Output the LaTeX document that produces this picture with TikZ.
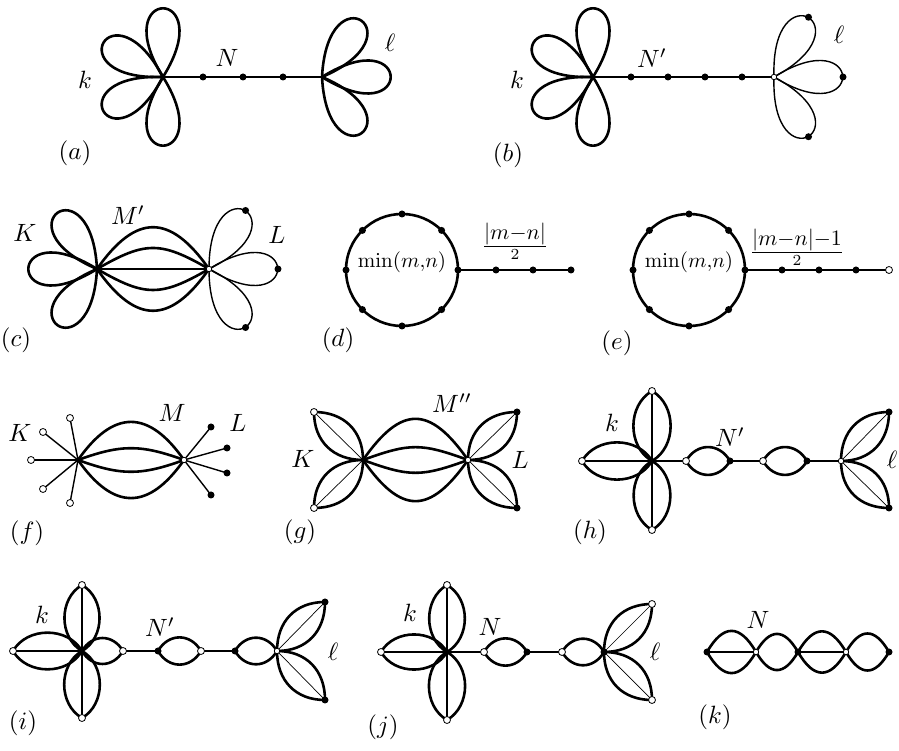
\documentclass[tikz,border=0pt]{standalone}
\usepackage{graphicx}
\newcommand\petal[3]{\draw[#3] (#1) .. controls +({#2-32}:108) and +({#2+32}:108) .. (#1);}
\newcommand\lbl[1]{\scalebox{2.5}{$#1$}}
\begin{document}
\begin{tikzpicture}[x=1pt,y=1pt,
  thk/.style={line width=2.6pt},
  med/.style={line width=1.9pt},
  thn/.style={line width=1.4pt},
  vthn/.style={line width=0.7pt},
  bdot/.style={circle,fill=black,inner sep=0pt,minimum size=7pt},
  wdot/.style={circle,draw=black,fill=white,inner sep=0pt,minimum size=7pt,line width=0.8pt},
  swdot/.style={circle,draw=black,fill=white,inner sep=0pt,minimum size=5.5pt,line width=0.8pt},
  cdot/.style={circle,fill=black,inner sep=0pt,minimum size=5pt},
  lab/.style={inner sep=0pt},
  lensb/.style={bend left=60,looseness=#1},
]
\useasboundingbox (0,0) rectangle (899,751);

%%%%% (a)
\coordinate (aL) at (163,674);
\coordinate (aR) at (322,674);
\coordinate (a1) at (203,674);
\coordinate (a2) at (243,674);
\coordinate (a3) at (283,674);
\draw[thk] (aL) -- (a1) -- (a2) -- (a3) -- (aR);
\foreach \t in {90,150,210,270} {\petal{aL}{\t}{thk}}
\foreach \t in {55,0,-55} {\petal{aR}{\t}{thk}}
\foreach \i in {1,2,3} {\node[bdot] (na\i) at (a\i) {};}
\node[lab] (laN) at (227,693) {\lbl{N}};
\node[lab] (lak) at (85,671) {\lbl{k}};
\node[lab] (lal) at (390,708) {\lbl{\ell}};
\node[lab] (lat) at (75,598) {\lbl{(a)}};

%%%%% (b)
\coordinate (bL) at (593,674);
\coordinate (bR) at (774,674);
\coordinate (b1) at (631,674);
\coordinate (b2) at (668,674);
\coordinate (b3) at (705,674);
\coordinate (b4) at (742,674);
\draw[thk] (bL) -- (b1) -- (b2) -- (b3) -- (b4) -- (bR);
\foreach \t in {90,150,210,270} {\petal{bL}{\t}{thk}}
\foreach \t in {60,0,-60} {\petal{bR}{\t}{thn}}
\foreach \t [count=\i] in {60,0,-60} {\path (bR) ++(\t:69) node[bdot] (bt\i) {};}
\foreach \i in {1,2,3,4} {\node[bdot] (nb\i) at (b\i) {};}
\node[swdot] (nbR) at (bR) {};
\node[lab] (lbN) at (652,693) {\lbl{N'}};
\node[lab] (lbk) at (517,671) {\lbl{k}};
\node[lab] (lbl) at (839,716) {\lbl{\ell}};
\node[lab] (lbt) at (508,596) {\lbl{(b)}};

%%%%% (c)
\coordinate (cL) at (97,482);
\coordinate (cR) at (209,482);
\foreach \t in {125,180,235} {\petal{cL}{\t}{thk}}
\foreach \t in {58,0,-58} {\petal{cR}{\t}{thn}}
\draw[med] (cL) -- (cR);
\draw[thk] (cL) .. controls +(55:68) and +(125:68) .. (cR);
\draw[thk] (cL) .. controls +(-55:68) and +(-125:68) .. (cR);
\draw[thk] (cL) .. controls +(30:56) and +(150:56) .. (cR);
\draw[thk] (cL) .. controls +(-30:56) and +(-150:56) .. (cR);
\foreach \t [count=\i] in {58,0,-58} {\path (cR) ++(\t:69) node[bdot] (ct\i) {};}
\node[swdot] (ncR) at (cR) {};
\node[lab] (lcM) at (128,536) {\lbl{M'}};
\node[lab] (lcK) at (25,518) {\lbl{K}};
\node[lab] (lcL) at (277,516) {\lbl{L}};
\node[lab] (lct) at (16,411) {\lbl{(c)}};

%%%%% (d)
\coordinate (dC) at (402,481);
\coordinate (dR) at (458,481);
\coordinate (d1) at (496,481);
\coordinate (d2) at (533,481);
\coordinate (d3) at (571,481);
\draw[thk] (dC) circle (56);
\draw[thk] (dR) -- (d1) -- (d2) -- (d3);
\foreach \a in {0,45,...,315} {\path (dC) ++(\a:56) node[bdot] (dc\a) {};}
\foreach \i in {1,2,3} {\node[bdot] (nd\i) at (d\i) {};}
\node[lab] (ldm) at (402,489) {\scalebox{2.1}{$\min(m,\!n)$}};
\node[lab] (ldf) at (515,510) {\scalebox{2.2}{$\frac{\textstyle|m{-}n|}{2}$}};
\node[lab] (ldt) at (338,411) {\lbl{(d)}};

%%%%% (e)
\coordinate (eC) at (689,481);
\coordinate (eR) at (745,481);
\coordinate (e1) at (782,481);
\coordinate (e2) at (819,481);
\coordinate (e3) at (856,481);
\coordinate (e4) at (889,481);
\draw[thk] (eC) circle (56);
\draw[thk] (eR) -- (e1) -- (e2) -- (e3);
\draw[thn] (e3) -- (e4);
\foreach \a in {0,45,...,315} {\path (eC) ++(\a:56) node[bdot] (ec\a) {};}
\foreach \i in {1,2,3} {\node[bdot] (ne\i) at (e\i) {};}
\node[wdot] (ne4) at (e4) {};
\node[lab] (lem) at (689,489) {\scalebox{2.1}{$\min(m,\!n)$}};
\node[lab] (lef) at (797,504) {\scalebox{2.2}{$\frac{\textstyle|m{-}n|{-}1}{2}$}};
\node[lab] (let) at (617,408) {\lbl{(e)}};

%%%%% (f)
\coordinate (fL) at (78,291);
\coordinate (fR) at (184,291);
\coordinate (fa1) at (70,333);
\coordinate (fa2) at (43,319);
\coordinate (fa3) at (31,291);
\coordinate (fa4) at (43,262);
\coordinate (fa5) at (70,248);
\coordinate (fb1) at (211,324);
\coordinate (fb2) at (227,303);
\coordinate (fb3) at (227,278);
\coordinate (fb4) at (211,256);
\draw[thk] (fL) .. controls +(55:62) and +(125:62) .. (fR);
\draw[thk] (fL) .. controls +(-55:62) and +(-125:62) .. (fR);
\draw[thk] (fL) .. controls +(20:46) and +(160:46) .. (fR);
\draw[thk] (fL) .. controls +(-20:46) and +(-160:46) .. (fR);
\foreach \i in {1,...,5} {\draw[thn] (fL) -- (fa\i);}
\foreach \i in {1,...,4} {\draw[thn] (fR) -- (fb\i);}
\foreach \i in {1,...,5} {\node[wdot] (nfa\i) at (fa\i) {};}
\foreach \i in {1,...,4} {\node[bdot] (nfb\i) at (fb\i) {};}
\node[cdot] (nfL) at (fL) {};
\node[swdot] (nfR) at (fR) {};
\node[lab] (lfK) at (20,318) {\lbl{K}};
\node[lab] (lfM) at (172,338) {\lbl{M}};
\node[lab] (lfL) at (238,328) {\lbl{L}};
\node[lab] (lft) at (27,218) {\lbl{(f)}};

%%%%% (g)
\coordinate (gL) at (363,291);
\coordinate (gR) at (468,291);
\coordinate (gt1) at (314,339);
\coordinate (gt2) at (314,243);
\coordinate (gt3) at (517,339);
\coordinate (gt4) at (517,243);
\draw[thk] (gL) .. controls +(55:67) and +(125:67) .. (gR);
\draw[thk] (gL) .. controls +(-55:67) and +(-125:67) .. (gR);
\draw[thk] (gL) .. controls +(20:50) and +(160:50) .. (gR);
\draw[thk] (gL) .. controls +(-20:50) and +(-160:50) .. (gR);
\draw[thk] (gL) to[out=90,in=0,looseness=1.1] (gt1);
\draw[thk] (gL) to[out=180,in=270,looseness=1.1] (gt1);
\draw[thk] (gL) to[out=-90,in=0,looseness=1.1] (gt2);
\draw[thk] (gL) to[out=180,in=90,looseness=1.1] (gt2);
\draw[thk] (gR) to[out=90,in=180,looseness=1.1] (gt3);
\draw[thk] (gR) to[out=0,in=270,looseness=1.1] (gt3);
\draw[thk] (gR) to[out=-90,in=180,looseness=1.1] (gt4);
\draw[thk] (gR) to[out=0,in=90,looseness=1.1] (gt4);
\foreach \i in {1,2} {\draw[vthn] (gL) -- (gt\i);}
\foreach \i in {3,4} {\draw[vthn] (gR) -- (gt\i);}
\foreach \i in {1,2} {\node[wdot] (ngt\i) at (gt\i) {};}
\foreach \i in {3,4} {\node[bdot] (ngt\i) at (gt\i) {};}
\node[cdot] (ngL) at (gL) {};
\node[swdot] (ngR) at (gR) {};
\node[lab] (lgM) at (452,348) {\lbl{M''}};
\node[lab] (lgK) at (303,292) {\lbl{K}};
\node[lab] (lgL) at (520,291) {\lbl{L}};
\node[lab] (lgt) at (300,219) {\lbl{(g)}};

%%%%% (h)
\coordinate (hC) at (652,290);
\coordinate (hu) at (652,360);
\coordinate (hd) at (652,221);
\coordinate (hl) at (582,290);
\coordinate (h1) at (686,290);
\coordinate (h2) at (730,290);
\coordinate (h3) at (763,290);
\coordinate (h4) at (807,290);
\coordinate (hR) at (841,290);
\coordinate (hr1) at (889,339);
\coordinate (hr2) at (889,243);
\foreach \p in {hu,hd,hl} {\draw[thk] (hC) to[lensb=1.05] (\p) to[lensb=1.05] (hC);}
\draw[med] (hu) -- (hd);
\draw[med] (hl) -- (hC) -- (h1);
\draw[thk] (h1) to[lensb=1.25] (h2) to[lensb=1.25] (h1);
\draw[med] (h2) -- (h3);
\draw[thk] (h3) to[lensb=1.25] (h4) to[lensb=1.25] (h3);
\draw[med] (h4) -- (hR);
\draw[thk] (hR) to[out=90,in=180,looseness=1.1] (hr1);
\draw[thk] (hR) to[out=0,in=270,looseness=1.1] (hr1);
\draw[thk] (hR) to[out=-90,in=180,looseness=1.1] (hr2);
\draw[thk] (hR) to[out=0,in=90,looseness=1.1] (hr2);
\draw[vthn] (hR) -- (hr1);
\draw[vthn] (hR) -- (hr2);
\foreach \p in {hu,hd,hl,h1,h3} {\node[wdot] (n\p) at (\p) {};}
\foreach \p in {h2,h4,hr1,hr2} {\node[bdot] (n\p) at (\p) {};}
\node[cdot] (nhC) at (hC) {};
\node[swdot] (nhR) at (hR) {};
\node[lab] (lhk) at (612,328) {\lbl{k}};
\node[lab] (lhN) at (730,314) {\lbl{N'}};
\node[lab] (lhl) at (892,291) {\lbl{\ell}};
\node[lab] (lht) at (590,219) {\lbl{(h)}};

%%%%% (i)
\coordinate (iC) at (82,100);
\coordinate (iu) at (82,166);
\coordinate (id) at (82,33);
\coordinate (il) at (13,100);
\coordinate (ir) at (123,100);
\coordinate (i1) at (158,100);
\coordinate (i2) at (201,100);
\coordinate (i3) at (235,100);
\coordinate (iR) at (277,100);
\coordinate (ir1) at (325,149);
\coordinate (ir2) at (325,51);
\foreach \p in {iu,id,il} {\draw[thk] (iC) to[lensb=1.05] (\p) to[lensb=1.05] (iC);}
\draw[thk] (iC) to[lensb=1.25] (ir) to[lensb=1.25] (iC);
\draw[med] (iu) -- (id);
\draw[med] (il) -- (iC);
\draw[med] (ir) -- (i1);
\draw[thk] (i1) to[lensb=1.25] (i2) to[lensb=1.25] (i1);
\draw[med] (i2) -- (i3);
\draw[thk] (i3) to[lensb=1.25] (iR) to[lensb=1.25] (i3);
\draw[thk] (iR) to[out=90,in=180,looseness=1.1] (ir1);
\draw[thk] (iR) to[out=0,in=270,looseness=1.1] (ir1);
\draw[thk] (iR) to[out=-90,in=180,looseness=1.1] (ir2);
\draw[thk] (iR) to[out=0,in=90,looseness=1.1] (ir2);
\draw[vthn] (iR) -- (ir1);
\draw[vthn] (iR) -- (ir2);
\foreach \p in {iu,id,il,ir,i2} {\node[wdot] (n\p) at (\p) {};}
\foreach \p in {i1,i3,ir1,ir2} {\node[bdot] (n\p) at (\p) {};}
\node[cdot] (niC) at (iC) {};
\node[swdot] (niR) at (iR) {};
\node[lab] (lik) at (42,136) {\lbl{k}};
\node[lab] (liN) at (160,124) {\lbl{N'}};
\node[lab] (lil) at (333,99) {\lbl{\ell}};
\node[lab] (lit) at (23,28) {\lbl{(i)}};

%%%%% (j)
\coordinate (jC) at (447,99);
\coordinate (ju) at (447,166);
\coordinate (jd) at (447,31);
\coordinate (jl) at (381,99);
\coordinate (j1) at (484,99);
\coordinate (j2) at (527,99);
\coordinate (j3) at (562,99);
\coordinate (jR) at (604,99);
\coordinate (jt1) at (652,147);
\coordinate (jt2) at (652,51);
\foreach \p in {ju,jd,jl} {\draw[thk] (jC) to[lensb=1.05] (\p) to[lensb=1.05] (jC);}
\draw[med] (ju) -- (jd);
\draw[med] (jl) -- (jC) -- (j1);
\draw[thk] (j1) to[lensb=1.25] (j2) to[lensb=1.25] (j1);
\draw[med] (j2) -- (j3);
\draw[thk] (j3) to[lensb=1.25] (jR) to[lensb=1.25] (j3);
\draw[thk] (jR) to[out=90,in=180,looseness=1.1] (jt1);
\draw[thk] (jR) to[out=0,in=270,looseness=1.1] (jt1);
\draw[thk] (jR) to[out=-90,in=180,looseness=1.1] (jt2);
\draw[thk] (jR) to[out=0,in=90,looseness=1.1] (jt2);
\draw[vthn] (jR) -- (jt1);
\draw[vthn] (jR) -- (jt2);
\foreach \p in {ju,jd,jl,j1,j3,jt1,jt2} {\node[wdot] (n\p) at (\p) {};}
\foreach \p in {j2,jR} {\node[bdot] (n\p) at (\p) {};}
\node[cdot] (njC) at (jC) {};
\node[lab] (ljk) at (410,138) {\lbl{k}};
\node[lab] (ljN) at (490,124) {\lbl{N}};
\node[lab] (ljl) at (655,99) {\lbl{\ell}};
\node[lab] (ljt) at (383,24) {\lbl{(j)}};

%%%%% (k)
\coordinate (k1) at (707,99);
\coordinate (k2) at (756,99);
\coordinate (k3) at (798,99);
\coordinate (k4) at (846,99);
\coordinate (k5) at (889,99);
\draw[thk] (k1) to[lensb=1.7] (k2) to[lensb=1.7] (k1);
\draw[thk] (k2) to[lensb=1.7] (k3) to[lensb=1.7] (k2);
\draw[thk] (k3) to[lensb=1.7] (k4) to[lensb=1.7] (k3);
\draw[thk] (k4) to[lensb=1.7] (k5) to[lensb=1.7] (k4);
\draw[med] (k1) -- (k2);
\draw[med] (k3) -- (k4);
\foreach \p in {k1,k3,k5} {\node[bdot] (n\p) at (\p) {};}
\foreach \p in {k2,k4} {\node[swdot] (n\p) at (\p) {};}
\node[lab] (lkN) at (758,131) {\lbl{N}};
\node[lab] (lkt) at (715,34) {\lbl{(k)}};
\end{tikzpicture}
\end{document}
